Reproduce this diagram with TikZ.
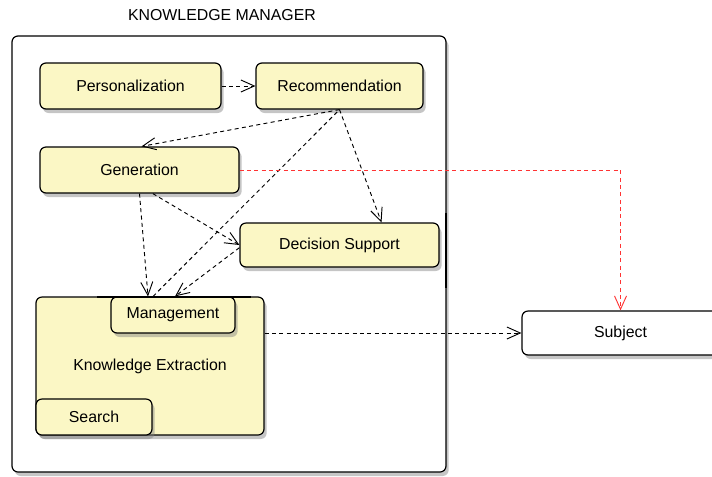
\documentclass[tikz,border=0pt]{standalone}
\usepackage{fontspec}
\setmainfont{Liberation Sans}
\usetikzlibrary{positioning, shadows, arrows.meta}
\definecolor{boxyellow}{RGB}{251,247,197}
\definecolor{linkred}{RGB}{255,51,51}

\begin{document}
\begin{tikzpicture}[x=0.75pt, y=-0.75pt,
        font=\fontsize{11.9}{14}\selectfont,
        part/.style={draw, line width=0.9pt, rounded corners=4.5pt, fill=boxyellow,
            drop shadow={shadow xshift=2pt, shadow yshift=-3pt, opacity=0.45}, inner sep=0pt},
        frame/.style={draw, line width=0.9pt, rounded corners=4.5pt, fill=white,
            drop shadow={shadow xshift=2pt, shadow yshift=-3pt, opacity=0.45}, inner sep=0pt},
        link/.style={dashed, dash pattern=on 3pt off 2.5pt, line width=0.7pt,
            -{Straight Barb[length=10pt, width=9pt]}}]
        \useasboundingbox (0,0) rectangle (712,476);

        \node at (222,15) {KNOWLEDGE MANAGER};
        \node[frame, minimum width=325.5pt, minimum height=327pt] (manager) at (229,254) {};

        \node[part, minimum width=135.75pt, minimum height=34.5pt] (pers) at (130.5,86) {Personalization};
        \node[part, minimum width=125.25pt, minimum height=34.5pt] (rec) at (339.5,86) {Recommendation};
        \node[part, minimum width=149.25pt, minimum height=34.5pt] (gen) at (139.5,170) {Generation};
        \node[part, minimum width=149.25pt, minimum height=33pt] (dec) at (339.5,245) {Decision Support};

        \node[part, minimum width=171pt, minimum height=103.5pt] (ke) at (150,366) {Knowledge Extraction};
        \node[part, minimum width=93pt, minimum height=27pt] (mgmt) at (173,315) {Management};
        \node[part, minimum width=87pt, minimum height=27pt] (search) at (94,417) {Search};

        \node[frame, minimum width=147.75pt, minimum height=33pt] (subj) at (620.5,333) {Subject};

        \draw[line width=2pt] (97,297) -- (251,297);
        \draw[line width=2pt] (446,213) -- (446,288);

        \draw[link] (pers.east) -- (rec.west);
        \draw[link] (rec.south) -- ([xshift=1.5pt]gen.north);
        \draw[link] (rec.south) -- ([xshift=31.5pt]dec.north);
        \draw[link, -] ([xshift=-15pt]mgmt.north) -- (rec.south);
        \draw[link] (gen.south) -- ([xshift=-18.75pt]mgmt.north);
        \draw[link] ([xshift=10pt]gen.south) -- (dec.west);
        \draw[link] ([yshift=-2pt]dec.west) -- ([xshift=1.5pt]mgmt.north);
        \draw[link, linkred] (gen.east) -- (subj.north |- gen.east) -- (subj.north);
        \draw[link] (ke.east |- subj.west) -- (subj.west);
    \end{tikzpicture}
\end{document}
